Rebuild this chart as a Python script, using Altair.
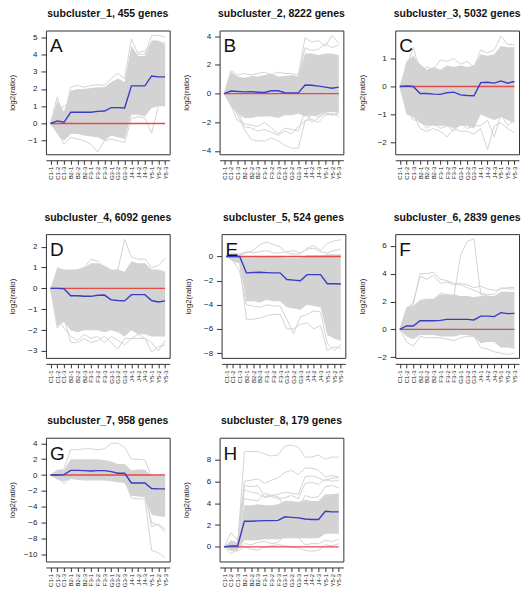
import altair as alt
import pandas as pd

samples = ["C1-1", "C1-2", "C1-3", "B2-1", "B2-2", "B2-3", "F3-1", "F3-2", "F3-3",
           "G3-1", "G3-2", "G3-3", "J4-1", "J4-2", "J4-3", "Y5-1", "Y5-2", "Y5-3"]

titles = ["subcluster_1, 455 genes", "subcluster_2, 8222 genes", "subcluster_3, 5032 genes",
          "subcluster_4, 6092 genes", "subcluster_5, 524 genes", "subcluster_6, 2839 genes",
          "subcluster_7, 958 genes", "subcluster_8, 179 genes"]
letters = ["A", "B", "C", "D", "E", "F", "G", "H"]
zero_line = [0.0] * 18

# ---- Panel A ----
A_mean = [0.0, 0.15, 0.07, 0.65, 0.65, 0.65, 0.65, 0.70, 0.72, 0.92, 0.92, 0.90, 2.18, 2.18, 2.18, 2.75, 2.70, 2.70]
A_hi = [0.0, 1.30, 0.70, 1.90, 2.00, 2.00, 2.05, 2.10, 2.10, 2.40, 2.60, 2.40, 4.50, 3.90, 3.90, 4.80, 4.80, 4.60]
A_lo = [0.0, -0.60, -1.00, -0.60, -0.60, -0.70, -0.75, -0.80, -1.00, -0.70, -0.80, -0.90, 0.50, 0.50, 0.40, 0.90, 1.00, 1.00]
A_lines = [
    [0.0, 1.55, 0.30, 2.10, 2.20, 2.10, 2.20, 2.25, 2.20, 2.60, 2.90, 2.60, 4.90, 4.00, 4.00, 5.10, 5.10, 5.00],
    [0.0, -0.50, -1.20, -0.80, -0.90, -1.00, -1.20, -1.65, -1.00, -0.90, -1.00, -1.10, 0.30, 0.40, 0.30, -0.55, 1.00, 1.20],
    [0.0, 0.80, 1.00, 1.30, 1.40, 1.60, 1.50, 1.70, 1.80, 2.00, 2.30, 2.20, 3.50, 4.10, 4.20, 4.60, 4.50, 4.70],
]
A_domain = [-1.78, 5.38]
A_ticks = [-1, 0, 1, 2, 3, 4, 5]

# ---- Panel B ----
B_mean = [0.0, 0.18, 0.15, 0.12, 0.13, 0.10, 0.08, 0.20, 0.20, 0.06, 0.05, 0.05, 0.60, 0.58, 0.52, 0.45, 0.38, 0.45]
B_hi = [0.0, 1.50, 1.20, 1.10, 1.20, 1.20, 1.30, 1.40, 1.20, 1.20, 1.30, 1.20, 2.80, 2.80, 2.70, 2.80, 2.80, 2.70]
B_lo = [0.0, -0.90, -1.40, -1.70, -1.70, -1.60, -1.60, -1.60, -1.70, -1.50, -1.50, -1.40, -1.60, -1.50, -1.50, -1.30, -1.30, -1.30]
B_lines = [
    [0.0, -0.50, -1.50, -2.50, -3.20, -3.30, -3.30, -3.10, -3.30, -3.60, -3.80, -3.80, -1.90, -1.50, -1.60, -1.40, -1.50, -1.40],
    [0.0, -0.80, -1.90, -2.10, -2.20, -2.30, -2.00, -2.40, -2.80, -2.40, -2.50, -2.60, -1.20, -2.00, -1.70, -1.30, -1.50, -1.30],
    [0.0, 1.60, 1.30, 1.40, 1.30, 1.40, 1.50, 1.30, 1.50, 1.40, 1.40, 1.30, 3.90, 3.60, 3.70, 3.30, 4.05, 3.50],
    [0.0, 1.20, 1.10, 1.00, 1.20, 1.10, 1.20, 1.30, 1.10, 1.20, 1.20, 1.10, 3.20, 3.00, 3.10, 3.50, 3.20, 3.40],
    [0.0, -0.70, -1.20, -2.30, -2.40, -2.60, -2.50, -2.70, -2.90, -2.60, -2.80, -2.30, -1.90, -1.80, -2.00, -1.50, -1.40, -1.60],
]
B_domain = [-4.23, 4.40]
B_ticks = [-4, -2, 0, 2, 4]

# ---- Panel C ----
C_mean = [0.0, 0.02, 0.0, -0.25, -0.25, -0.27, -0.28, -0.22, -0.20, -0.30, -0.32, -0.33, 0.14, 0.15, 0.12, 0.20, 0.12, 0.18]
C_hi = [0.0, 0.90, 1.10, 0.80, 0.60, 0.70, 0.60, 0.75, 0.70, 0.75, 0.70, 0.75, 1.15, 1.10, 1.15, 1.45, 1.40, 1.40]
C_lo = [0.0, -1.00, -1.10, -1.30, -1.40, -1.40, -1.40, -1.40, -1.50, -1.40, -1.40, -1.50, -1.00, -1.10, -1.20, -1.10, -1.20, -1.30]
C_lines = [
    [0.0, -0.90, -1.00, -1.50, -1.60, -1.50, -1.60, -1.80, -1.50, -1.60, -1.60, -1.70, -1.50, -2.25, -1.40, -1.30, -1.50, -1.65],
    [0.0, 0.70, 1.40, 0.50, 0.70, 0.60, 0.95, 0.90, 1.00, 0.80, 0.90, 0.70, 1.30, 1.20, 1.30, 1.80, 1.50, 1.50],
    [0.0, -0.80, -1.20, -1.20, -1.50, -1.30, -1.50, -1.40, -1.60, -1.30, -1.50, -1.40, -1.40, -1.20, -1.80, -1.00, -1.40, -1.20],
]
C_domain = [-2.42, 2.00]
C_ticks = [-2, -1, 0, 1]

# ---- Panel D ----
D_mean = [0.0, 0.0, -0.02, -0.35, -0.35, -0.38, -0.38, -0.33, -0.32, -0.55, -0.58, -0.60, -0.30, -0.30, -0.30, -0.58, -0.65, -0.60]
D_hi = [0.0, 1.00, 0.90, 0.90, 0.90, 1.00, 1.20, 1.20, 1.10, 0.90, 0.90, 0.80, 1.30, 1.20, 1.20, 0.90, 0.90, 0.80]
D_lo = [0.0, -1.80, -1.60, -2.00, -2.10, -2.00, -2.00, -2.00, -2.10, -2.00, -2.10, -2.30, -2.00, -2.20, -2.20, -2.30, -2.30, -2.30]
D_lines = [
    [0.0, 0.60, 0.70, 0.80, 0.90, 1.00, 1.40, 1.30, 1.00, 0.80, 0.90, 2.35, 1.50, 1.40, 1.40, 1.00, 1.10, 1.45],
    [0.0, -1.90, -1.40, -2.60, -2.60, -2.40, -2.60, -2.50, -2.30, -2.60, -2.90, -2.40, -2.40, -2.40, -2.40, -3.05, -2.80, -2.70],
    [0.0, -1.50, -1.90, -2.30, -2.50, -2.20, -2.40, -2.30, -2.60, -2.30, -2.50, -2.70, -2.40, -2.20, -2.40, -2.60, -3.00, -2.50],
]
D_domain = [-3.33, 2.60]
D_ticks = [-3, -2, -1, 0, 1, 2]

# ---- Panel E ----
E_mean = [0.0, 0.0, 0.0, -1.35, -1.32, -1.30, -1.33, -1.35, -1.35, -1.90, -1.95, -2.00, -1.50, -1.50, -1.50, -2.25, -2.25, -2.28]
E_hi = [0.0, 0.10, 0.05, -0.05, -0.05, 0.0, 0.0, 0.0, -0.05, -0.10, -0.10, -0.10, 0.10, 0.10, 0.10, 0.20, 0.20, 0.20]
E_lo = [0.0, -0.40, -0.60, -3.70, -3.70, -3.80, -3.60, -3.70, -3.70, -4.20, -4.30, -4.40, -4.00, -4.10, -4.20, -6.50, -6.80, -7.00]
E_lines = [
    [0.0, 0.20, 0.10, 0.30, 0.50, 1.00, 1.20, 1.00, 0.80, 0.30, 0.20, 0.20, 0.70, 0.90, 0.50, 1.10, 1.30, 1.40],
    [0.0, -0.20, -0.50, -5.20, -5.20, -5.10, -4.90, -4.80, -4.80, -6.00, -6.00, -5.60, -5.50, -6.00, -5.70, -7.80, -7.50, -7.60],
    [0.0, -0.30, -1.20, -4.00, -4.10, -4.20, -4.00, -4.10, -4.10, -5.20, -6.40, -5.00, -4.80, -4.50, -4.60, -7.20, -7.80, -7.30],
    [0.0, 0.30, 0.20, 0.40, 0.30, 0.40, 0.50, 0.30, 0.30, 0.40, 0.50, 0.30, 0.60, 0.70, 0.40, 0.30, 0.50, 0.60],
]
E_domain = [-8.40, 1.86]
E_ticks = [-8, -6, -4, -2, 0]

# ---- Panel F ----
F_mean = [0.0, 0.25, 0.25, 0.62, 0.62, 0.62, 0.65, 0.72, 0.72, 0.72, 0.72, 0.68, 0.95, 0.95, 0.92, 1.20, 1.13, 1.15]
F_hi = [0.0, 1.60, 1.70, 2.10, 2.20, 2.20, 2.50, 2.50, 2.50, 2.40, 2.40, 2.30, 2.40, 2.40, 2.40, 2.70, 2.70, 2.70]
F_lo = [0.0, -0.50, -0.70, -0.40, -0.40, -0.40, -0.50, -0.50, -0.50, -0.40, -0.40, -0.50, -1.00, -0.90, -0.90, -1.30, -1.30, -1.40]
F_lines = [
    [0.0, 1.00, 1.20, 2.00, 2.00, 2.10, 2.60, 2.50, 2.30, 5.30, 6.30, 6.50, 2.50, 2.40, 2.30, 2.50, 2.60, 2.60],
    [0.0, 1.50, 1.80, 4.00, 4.00, 4.10, 3.60, 3.50, 3.30, 3.30, 3.20, 3.00, 3.10, 2.90, 2.80, 2.90, 3.00, 3.00],
    [0.0, -0.90, -1.20, -0.50, -0.60, -0.60, -0.60, -0.70, -0.80, -0.60, -0.50, -0.50, -1.30, -1.40, -1.60, -1.70, -1.80, -1.70],
    [0.0, 1.30, 2.00, 3.80, 3.60, 3.90, 3.30, 3.40, 3.20, 3.20, 3.00, 2.80, 2.60, 2.50, 2.50, 3.00, 2.90, 2.90],
]
F_domain = [-2.04, 6.83]
F_ticks = [-2, 0, 2, 4, 6]

# ---- Panel G ----
G_mean = [0.0, 0.0, 0.05, 0.58, 0.58, 0.55, 0.50, 0.55, 0.55, 0.42, 0.22, 0.22, -1.00, -1.00, -1.00, -1.70, -1.75, -1.75]
G_hi = [0.0, 0.70, 0.60, 2.00, 2.00, 2.00, 2.00, 2.00, 1.90, 1.70, 1.40, 1.40, 0.60, 0.70, 0.70, -0.10, -0.10, -0.10]
G_lo = [0.0, -0.60, -0.80, -0.50, -0.60, -0.70, -0.70, -0.70, -0.70, -0.80, -0.90, -1.00, -2.60, -2.70, -2.80, -5.00, -5.20, -5.30]
G_lines = [
    [0.0, 0.50, 0.80, 3.20, 3.20, 3.30, 3.30, 3.20, 3.30, 4.00, 4.00, 3.50, 2.00, 2.00, 1.90, -0.20, -0.30, -0.30],
    [0.0, -0.30, -0.50, -0.30, -0.30, -0.40, -0.30, -0.40, -0.40, -0.50, -0.60, -0.60, -2.90, -3.00, -3.00, -9.50, -9.80, -10.40],
    [0.0, -0.40, -0.60, -0.20, -0.20, -0.30, -0.30, -0.30, -0.30, -0.40, -0.50, -0.50, -2.30, -2.40, -2.50, -6.00, -6.30, -7.20],
    [0.0, -0.20, -1.10, -0.40, -0.50, -0.40, -0.50, -0.50, -0.60, -0.60, -0.70, -0.70, -2.00, -2.10, -2.20, -6.50, -6.20, -6.80],
]
G_domain = [-10.90, 4.70]
G_ticks = [-10, -8, -6, -4, -2, 0, 2, 4]

# ---- Panel H ----
H_mean = [0.0, 0.10, 0.08, 2.35, 2.35, 2.38, 2.40, 2.40, 2.42, 2.75, 2.70, 2.65, 2.55, 2.50, 2.50, 3.25, 3.20, 3.20]
H_hi = [0.0, 0.60, 0.40, 3.80, 3.80, 3.90, 3.80, 3.80, 3.90, 4.20, 4.20, 4.10, 4.30, 4.20, 4.20, 4.80, 4.80, 4.90]
H_lo = [0.0, -0.30, -0.30, 0.60, 0.60, 0.60, 0.70, 0.70, 0.70, 0.80, 0.80, 0.80, 0.80, 0.80, 0.80, 1.20, 1.20, 1.20]
H_lines = [
    [0.0, 0.20, 0.10, 8.70, 8.70, 8.70, 8.50, 8.30, 8.40, 9.20, 9.30, 9.10, 8.20, 8.20, 8.40, 8.00, 8.20, 8.20],
    [0.0, 0.30, 0.20, 6.00, 6.10, 6.20, 5.80, 6.10, 6.30, 6.80, 7.00, 6.60, 7.20, 7.20, 7.00, 6.40, 6.50, 6.40],
    [0.0, 0.40, 0.30, 5.60, 5.50, 5.60, 4.60, 4.70, 4.80, 5.00, 4.90, 4.80, 6.40, 6.50, 6.30, 6.00, 6.30, 6.30],
    [0.0, -0.30, -0.40, 0.00, -0.20, -0.30, 0.00, 0.10, 0.20, 0.10, 0.00, -0.10, -0.30, -0.40, -0.30, 0.20, 0.10, 0.30],
    [0.0, 1.30, 0.60, 5.20, 5.00, 4.90, 4.50, 4.60, 4.40, 4.50, 4.70, 4.40, 5.80, 5.90, 5.70, 6.20, 6.00, 6.10],
    [0.0, -0.60, -0.20, 0.30, 0.20, 0.40, 0.50, 0.30, 0.40, 1.20, 1.00, 0.90, 0.20, 0.30, 0.30, 0.60, 0.50, 0.70],
    [0.0, 0.50, 0.40, 4.40, 4.30, 4.20, 4.90, 4.70, 4.60, 3.60, 3.70, 3.50, 4.70, 4.50, 4.60, 5.50, 5.60, 5.40],
]
H_domain = [-1.33, 9.97]
H_ticks = [0, 2, 4, 6, 8]

panels = [
    (A_mean, A_hi, A_lo, A_lines, A_domain, A_ticks),
    (B_mean, B_hi, B_lo, B_lines, B_domain, B_ticks),
    (C_mean, C_hi, C_lo, C_lines, C_domain, C_ticks),
    (D_mean, D_hi, D_lo, D_lines, D_domain, D_ticks),
    (E_mean, E_hi, E_lo, E_lines, E_domain, E_ticks),
    (F_mean, F_hi, F_lo, F_lines, F_domain, F_ticks),
    (G_mean, G_hi, G_lo, G_lines, G_domain, G_ticks),
    (H_mean, H_hi, H_lo, H_lines, H_domain, H_ticks),
]

FONT = "Liberation Sans"
GRAY = "#d3d3d3"
W = 124
H = 124


def make_panel(k):
    mean, hi, lo, lines, dom, ticks = panels[k]
    band_df = pd.DataFrame({"sample": samples, "v": hi, "lo": lo})
    rows = []
    for j, ln in enumerate(lines):
        for s, v in zip(samples, ln):
            rows.append({"sample": s, "v": v, "id": j})
    lines_df = pd.DataFrame(rows)
    mean_df = pd.DataFrame({"sample": samples, "v": mean})
    zero_df = pd.DataFrame({"sample": samples, "v": zero_line})

    x_enc = alt.X("sample:N", sort=samples,
                  scale=alt.Scale(type="point", padding=0.68),
                  axis=alt.Axis(title=None, labelAngle=-90, labelFontSize=6,
                                labelPadding=2, tickSize=4, offset=6,
                                domain=True, domainColor="#333", tickColor="#333",
                                labelColor="#222", labelFont=FONT))
    y_axis = alt.Axis(title="log2(ratio)", values=ticks, format="d", grid=False,
                      domain=False, tickSize=5, tickColor="#333",
                      labelFontSize=8, labelPadding=4, labelColor="#222", labelFont=FONT,
                      titleFontSize=8, titleFontWeight="normal", titleFont=FONT,
                      titleColor="#222", titlePadding=5,
                      minExtent=24, maxExtent=24)
    y_scale = alt.Scale(domain=dom, nice=False, zero=False)

    band = alt.Chart(band_df).mark_area(color=GRAY, opacity=1, clip=True).encode(
        x=x_enc, y=alt.Y("v:Q", scale=y_scale, axis=y_axis), y2="lo:Q")
    outl = alt.Chart(lines_df).mark_line(color=GRAY, strokeWidth=1, clip=True).encode(
        x=x_enc, y=alt.Y("v:Q", scale=y_scale, axis=y_axis), detail="id:N")
    zero = alt.Chart(zero_df).mark_line(color="#e34a4a", strokeWidth=1.4, clip=True).encode(
        x=x_enc, y=alt.Y("v:Q", scale=y_scale, axis=y_axis))
    blue = alt.Chart(mean_df).mark_line(color="#3b3bc4", strokeWidth=1.4, clip=True).encode(
        x=x_enc, y=alt.Y("v:Q", scale=y_scale, axis=y_axis))
    letter = alt.Chart(pd.DataFrame({"t": [letters[k]]})).mark_text(
        align="left", baseline="top", fontSize=19, font=FONT, color="#111").encode(
        text="t:N", x=alt.value(4), y=alt.value(7))

    return alt.layer(band, outl, zero, blue, letter).properties(
        width=W, height=H,
        title=alt.Title(titles[k], fontSize=10.5, fontWeight="bold", font=FONT,
                        color="#111", offset=11, anchor="middle"))


p = [make_panel(k) for k in range(8)]
row1 = alt.hconcat(p[0], p[1], p[2], spacing=11)
row2 = alt.hconcat(p[3], p[4], p[5], spacing=11)
row3 = alt.hconcat(p[6], p[7], spacing=11)

chart = alt.vconcat(row1, row2, row3, spacing=32).properties(
    padding={"left": 0, "top": 0, "right": 0, "bottom": 0}
).configure_view(stroke="#333", strokeWidth=1)

chart.save("out.html", embed_options={"renderer": "svg", "actions": False})
